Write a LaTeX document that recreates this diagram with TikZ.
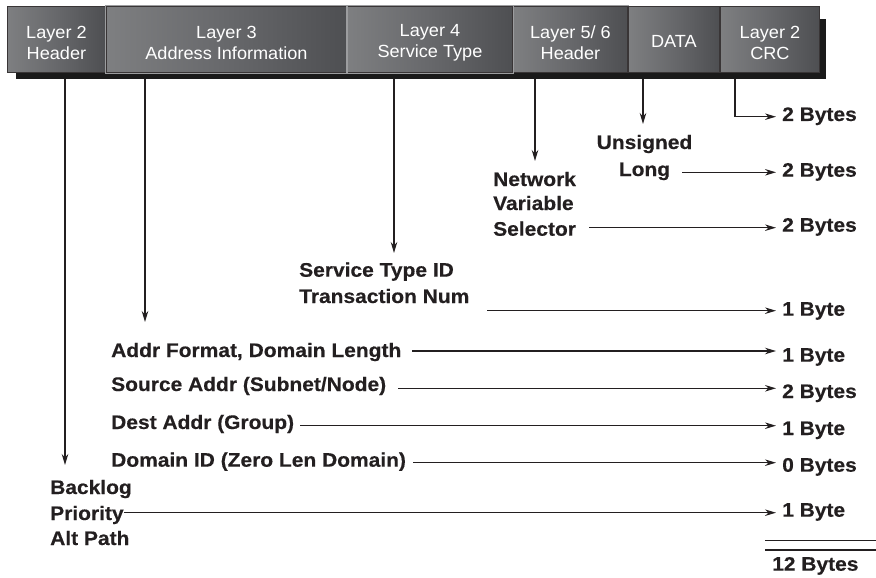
\documentclass[tikz,border=0pt]{standalone}
\usepackage{fontspec}
\setmainfont{Liberation Sans}
\newfontfamily\boxfont{Liberation Sans}[FakeStretch=1.03]
\newfontfamily\lblfont{Liberation Sans}[FakeStretch=1.07,FakeBold=0.4]
\usetikzlibrary{arrows.meta,backgrounds}
\definecolor{boxlight}{HTML}{7E7F81}
\definecolor{boxmid}{HTML}{67686B}
\definecolor{boxdark}{HTML}{4E4F52}
\definecolor{rim}{HTML}{9C9D9F}
\definecolor{ink}{HTML}{231F20}
\definecolor{shadowc}{HTML}{1A1A1A}
\newcommand\padtop{\rule{0pt}{19pt}}
\begin{document}
\begin{tikzpicture}[x=1pt,y=-1pt,
  field/.style={draw=ink!90, line width=0.9pt, left color=boxlight,
    right color=boxdark, middle color=boxmid, minimum height=66pt,
    inner sep=0pt, anchor=north west, align=center, text=white,
    font=\boxfont\fontsize{17.6}{21}\selectfont},
  rimmed/.style={double=rim, double distance=0pt},
  lbl/.style={inner sep=0pt, anchor=base west, text=ink,
    font=\lblfont\bfseries\fontsize{19.6}{24}\selectfont},
  conn/.style={draw=ink, line width=1.1pt},
  arr/.style={conn, -{Stealth[length=11pt,width=6.5pt,inset=3.5pt]}},
  harr/.style={arr, shorten >=6pt},
  edge/.style={draw=rim, line width=0.7pt},
]
\useasboundingbox (0,0) rectangle (876,578);

% packet fields
\node[field, minimum width=98pt]  (l2h)  at (7,6)   {\padtop Layer 2\\Header};
\node[field, minimum width=240pt] (l3)   at (106,6) {\padtop Layer 3\\Address Information};
\node[field, minimum width=165pt] (l4)   at (347,6) {\padtop Layer 4\\Service Type};
\node[field, minimum width=114pt] (l56)  at (513,6) {\padtop Layer 5/ 6\\Header};
\node[field, minimum width=91pt]  (data) at (628,6) {\rule{0pt}{15.8pt}DATA};
\node[field, minimum width=99pt]  (crc)  at (720,6) {\padtop Layer 2\\CRC};
% light rim round the middle fields
\draw[edge] ([shift={(-0.9,-0.9)}]l3.north west) rectangle ([shift={(0.9,0.9)}]l3.south east);
\draw[edge] ([shift={(-0.9,-0.9)}]l4.north west) rectangle ([shift={(0.9,0.9)}]l4.south east);
\draw[edge] ([shift={(-0.9,-0.9)}]l56.north west) -- ([shift={(0.9,-0.9)}]l56.north east);

% byte counts
\node[lbl] (b1) at (782,121)   {2 Bytes};
\node[lbl] (b2) at (782,176.7) {2 Bytes};
\node[lbl] (b3) at (782,231.7) {2 Bytes};
\node[lbl] (b4) at (782,315.7) {1 Byte};
\node[lbl] (b5) at (782,361.7) {1 Byte};
\node[lbl] (b6) at (782,398)   {2 Bytes};
\node[lbl] (b7) at (782,435)   {1 Byte};
\node[lbl] (b8) at (782,471.7) {0 Bytes};
\node[lbl] (b9) at (782,516.7) {1 Byte};
\node[lbl] (tot) at (772,570.7) {12 Bytes};
\draw[conn] (765,540.7) -- (876,540.7);
\draw[conn] (765,550) -- (876,550);

% field contents
\node[lbl, anchor=base] (uns1) at (644.5,149) {Unsigned};
\node[lbl, anchor=base] (uns2) at (644.5,176) {Long};
\node[lbl] (net1) at (493,186)   {Network};
\node[lbl] (net2) at (493,210)   {Variable};
\node[lbl] (net3) at (493,235.7) {Selector};
\node[lbl] (svc1) at (299,276.7) {Service Type ID};
\node[lbl] (svc2) at (299,303)   {Transaction Num};
\node[lbl] (addr) at (111,357)   {Addr Format, Domain Length};
\node[lbl] (src)  at (111,391)   {Source Addr (Subnet/Node)};
\node[lbl] (dst)  at (111,429)   {Dest Addr (Group)};
\node[lbl] (dom)  at (111,466.7) {Domain ID (Zero Len Domain)};
\node[lbl] (bk1)  at (50,494)    {Backlog};
\node[lbl] (bk2)  at (50,520)    {Priority};
\node[lbl] (bk3)  at (50,545)    {Alt Path};

% arrow tips below the fields and starts of the size lines
\coordinate (e2)   at (65,465);
\coordinate (e3)   at (145,322);
\coordinate (e4)   at (394,253);
\coordinate (e56)  at (535,161);
\coordinate (edat) at (643,124);
\coordinate (ecrc) at (735,116.7);
\coordinate (longL) at (682,172.3);
\coordinate (selL)  at (589,227.7);
\coordinate (trnL)  at (487,310.7);
\coordinate (addrL) at (412,351);
\coordinate (srcL)  at (398,388.3);
\coordinate (dstL)  at (300,425.7);
\coordinate (domL)  at (413,462.7);
\coordinate (priL)  at (124,512.7);

\begin{scope}[on background layer]
  \draw[arr] (l2h.south -| e2) -- (e2);
  \draw[arr] (l3.south -| e3) -- (e3);
  \draw[arr] (l4.south -| e4) -- (e4);
  \draw[arr] (l56.south -| e56) -- (e56);
  \draw[arr] (data.south -| edat) -- (edat);
  \draw[harr] (crc.south -| ecrc) -- (ecrc) -- (ecrc -| b1.west);
  % drop shadow under the field row
  \fill[shadowc] (16,19) rectangle (826,79);
\end{scope}

\draw[harr] (longL) -- (longL -| b2.west);
\draw[harr] (selL)  -- (selL -| b3.west);
\draw[harr] (trnL)  -- (trnL -| b4.west);
\draw[harr] (addrL) -- (addrL -| b5.west);
\draw[harr] (srcL)  -- (srcL -| b6.west);
\draw[harr] (dstL)  -- (dstL -| b7.west);
\draw[harr] (domL)  -- (domL -| b8.west);
\draw[harr] (priL)  -- (priL -| b9.west);
\end{tikzpicture}
\end{document}
